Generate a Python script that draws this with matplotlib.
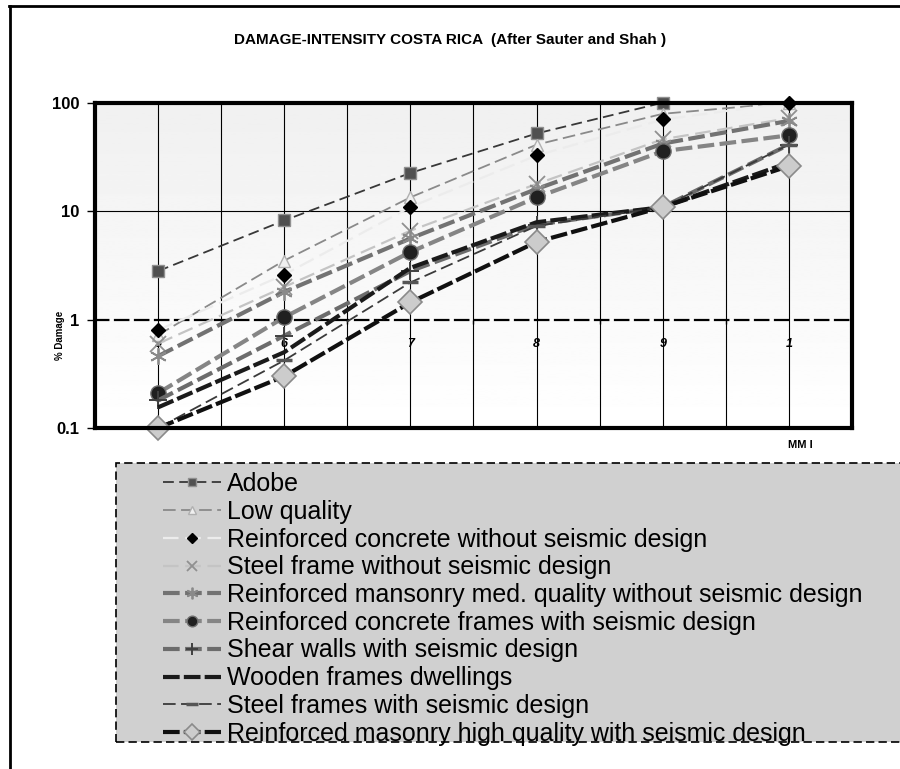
"""Damage-intensity curves for Costa Rica (after Sauter and Shah)."""

import numpy as np
import matplotlib
matplotlib.use("Agg")
import matplotlib.pyplot as plt
from matplotlib.lines import Line2D
from matplotlib.patches import Rectangle
from matplotlib.ticker import NullLocator

plt.rcParams['font.family'] = ['Liberation Sans', 'DejaVu Sans']

# --- data (% damage per MMI degree) ---
mmi = [5, 6, 7, 8, 9, 10]
mmi_labels = ['5', '6', '7', '8', '9', '1']
half_steps = [4.5, 5.5, 6.5, 7.5, 8.5, 9.5, 10.5]

adobe = [2.8, 8.2, 22.5, 52, 100, np.nan]
low_quality = [0.72, 3.5, 13.4, 41, 79, 100]
rc_no_seismic = [0.80, 2.6, 10.9, 32.6, 70, 100]
steel_no_seismic = [0.6, 2.0, 6.6, 17.8, 46, 72]
masonry_med = [0.46, 1.8, 5.6, 16, 42, 68]
rc_frames_seismic = [0.21, 1.05, 4.2, 13.4, 35.7, 50]
shear_walls = [0.18, 0.71, 2.8, 7.5, 10.9, 41]
wooden = [0.155, 0.5, 3.0, 7.9, 10.9, 28]
steel_seismic = [0.1, 0.42, 2.2, 7.3, 10.9, 41]
masonry_high = [0.1, 0.30, 1.44, 5.2, 10.9, 26]

labels = [
    "Adobe",
    "Low quality",
    "Reinforced concrete without seismic design",
    "Steel frame without seismic design",
    "Reinforced mansonry med. quality without seismic design",
    "Reinforced concrete frames with seismic design",
    "Shear walls with seismic design",
    "Wooden frames dwellings",
    "Steel frames with seismic design",
    "Reinforced masonry high quality with seismic design",
]
series = [adobe, low_quality, rc_no_seismic, steel_no_seismic, masonry_med,
          rc_frames_seismic, shear_walls, wooden, steel_seismic, masonry_high]

styles = [
    dict(color='#383838', lw=1.3, ls=(0, (6, 3)), marker='s', ms=8, mfc='#505050', mec='#909090'),
    dict(color='#8a8a8a', lw=1.3, ls=(0, (7, 3)), marker='^', ms=9, mfc='#f0f0f0', mec='#b0b0b0'),
    dict(color='#ececec', lw=1.6, ls=(0, (7, 3)), marker='D', ms=7, mfc='#000000', mec='#000000'),
    dict(color='#c4c4c4', lw=1.6, ls=(0, (7, 3)), marker='x', ms=11, mfc='#909090', mec='#909090', mew=1.3),
    dict(color='#727272', lw=3.0, ls=(0, (4, 1.3)), marker=(6, 2, 0), ms=12, mec='#8a8a8a', mew=1.3),
    dict(color='#858585', lw=3.0, ls=(0, (4, 1.3)), marker='o', ms=11, mfc='#202020', mec='#707070'),
    dict(color='#6c6c6c', lw=3.0, ls=(0, (4, 1.3)), marker='+', ms=13, mec='#404040', mew=1.4),
    dict(color='#1a1a1a', lw=3.0, ls=(0, (4, 1.0)), marker=None),
    dict(color='#3a3a3a', lw=1.3, ls=(0, (7, 3)), marker='_', ms=12, mec='#555555', mew=2.5),
    dict(color='#101010', lw=3.0, ls=(0, (4, 1.0)), marker='D', ms=12, mfc='#cccccc', mec='#8a8a8a', mew=1.2),
]

fig = plt.figure(figsize=(9, 7.69), dpi=100)
ax = fig.add_axes([95 / 900, 1 - 428 / 769, (852 - 95) / 900, (428 - 102.7) / 769])

# light gray-to-white plot area gradient
grad = np.linspace(0.94, 1.0, 256).reshape(-1, 1)
ax.imshow(grad, extent=[0, 1, 0, 1], transform=ax.transAxes, aspect='auto',
          cmap='gray', vmin=0, vmax=1, zorder=0)

ax.set_yscale('log')
ax.set_xlim(4.5, 10.5)
ax.set_ylim(0.1, 100)

for s, kw in zip(series, styles):
    ax.plot(mmi, s, zorder=3, clip_on=False, **kw)

# y axis
ax.set_yticks([0.1, 1, 10, 100])
ax.set_yticklabels(['0.1', '1', '10', '100'], fontweight='bold')
ax.yaxis.set_minor_locator(NullLocator())
ax.tick_params(axis='y', direction='out', length=6, width=1, pad=5, labelsize=12)

# x axis crosses at 1 (Excel style)
ax.spines['bottom'].set_position(('data', 1))
ax.spines['bottom'].set_linestyle((0, (6, 3)))
ax.spines['bottom'].set_linewidth(1.6)
ax.set_xticks(mmi)
ax.set_xticklabels(mmi_labels, fontweight='bold', fontstyle='italic')
ax.set_xticks(half_steps, minor=True)
ax.tick_params(axis='x', which='major', length=0, pad=13, labelsize=9)
ax.tick_params(axis='x', which='minor', direction='out', length=3, width=1)
ax.xaxis.grid(True, which='both', color='k', lw=0.8)
ax.axhline(10, color='k', lw=0.8, zorder=1.5)
ax.axhline(0.1, color='k', lw=3, clip_on=False, zorder=4)
for side in ['top', 'left', 'right']:
    ax.spines[side].set_linewidth(3)
    ax.spines[side].set_zorder(4)

fig.text(0.5, 1 - 40 / 769, "DAMAGE-INTENSITY COSTA RICA  (After Sauter and Shah )",
         ha='center', va='center', fontsize=11, fontweight='bold')
fig.text(60 / 900, 1 - 335 / 769, "% Damage", rotation=90, ha='center', va='center',
         fontsize=7, fontweight='bold')
fig.text(800 / 900, 1 - 445 / 769, "MM I", ha='center', va='center',
         fontsize=8, fontweight='bold')

# legend box
box = Rectangle((116 / 900, 1 - 742 / 769), 1.0, (742 - 463) / 769, transform=fig.transFigure,
                facecolor='#d0d0d0', edgecolor='k', lw=1.2, ls=(0, (5, 2.5)), zorder=0)
fig.add_artist(box)
handles = [Line2D([], [], **kw) for kw in styles]
fig.legend(handles, labels, loc='upper left', bbox_to_anchor=(163 / 900, 1 - 472 / 769),
           frameon=False, fontsize=18, handlelength=2.3, handletextpad=0.25,
           labelspacing=0.15, borderpad=0, borderaxespad=0, markerscale=0.7)

# outer frame (left and top edges visible)
fig.add_artist(Line2D([10 / 900, 10 / 900], [0, 1 - 6 / 769], color='k', lw=2,
                      transform=fig.transFigure))
fig.add_artist(Line2D([9 / 900, 1], [1 - 6 / 769, 1 - 6 / 769], color='k', lw=2,
                      transform=fig.transFigure))

fig.savefig('out.png', dpi=100)
